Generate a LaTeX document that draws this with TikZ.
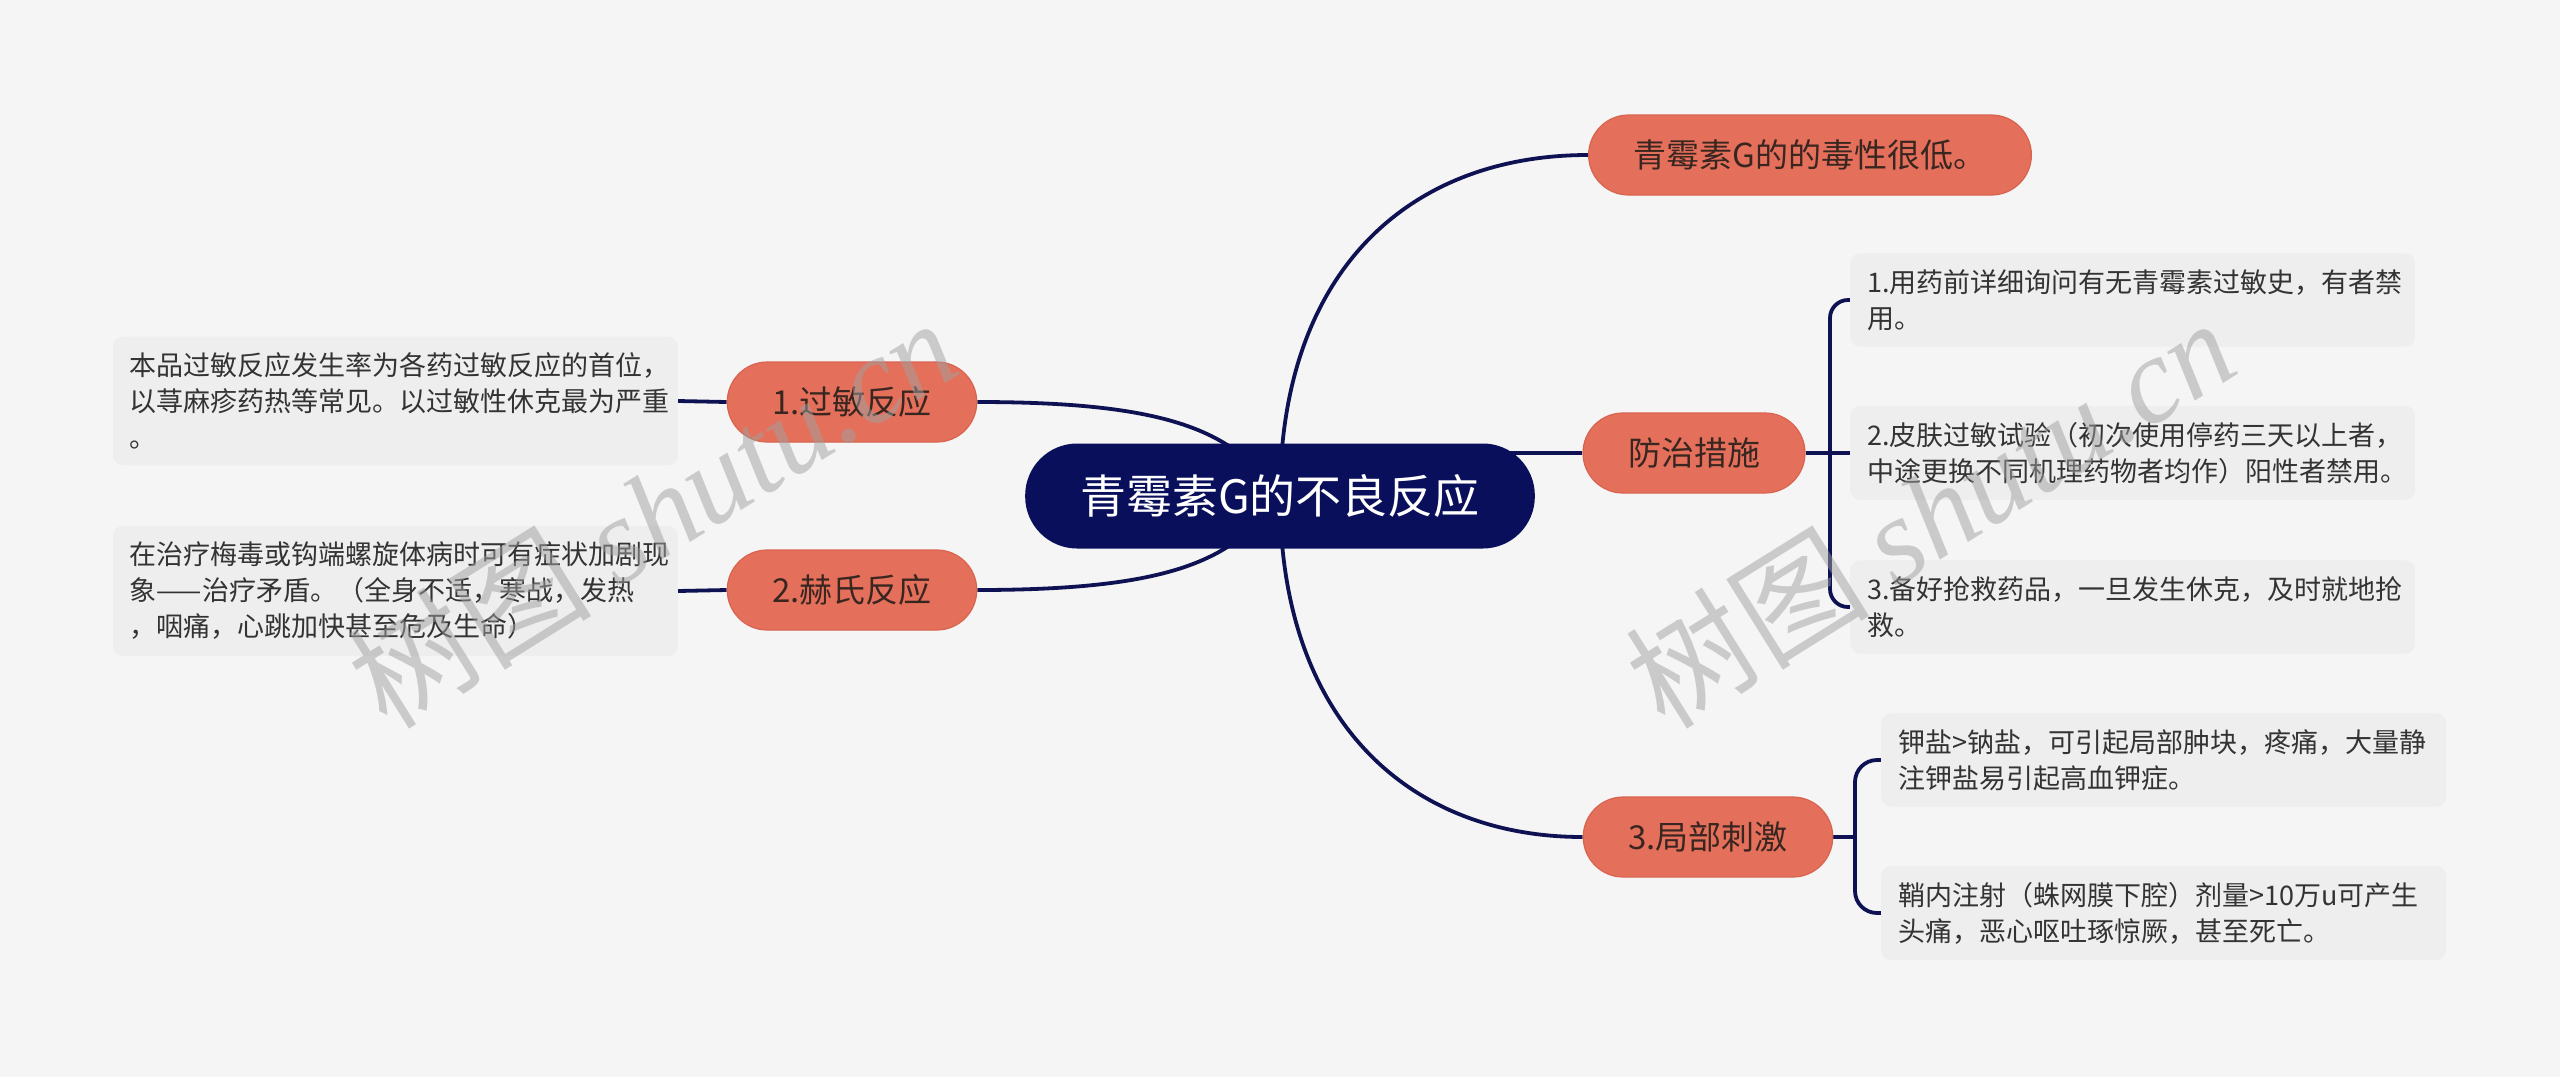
\documentclass[tikz,border=0pt]{standalone}
\usepackage{fontspec}
\setmainfont{Noto Sans CJK SC}
\newfontfamily\wmfont{Liberation Serif}
\usetikzlibrary{backgrounds}
\definecolor{bgc}{HTML}{F5F5F5}
\definecolor{rootc}{HTML}{0A0F5C}
\definecolor{topicc}{HTML}{E4705B}
\definecolor{topicd}{HTML}{D8634E}
\definecolor{leafc}{HTML}{EEEEEE}
\definecolor{txtc}{HTML}{333333}
\definecolor{topictxt}{HTML}{3A2621}
\definecolor{linkc}{HTML}{0E1253}
\definecolor{wmc}{HTML}{A0A0A0}

\begin{document}
\begin{tikzpicture}[x=1pt,y=-1pt,
  root/.style={fill=rootc,text=white,rounded corners=52pt,minimum height=105pt,inner xsep=55pt,font=\fontsize{46pt}{55pt}\selectfont},
  topic/.style={fill=topicc,draw=topicd,line width=1.2pt,text=topictxt,rounded corners=40pt,minimum height=80pt,inner xsep=45pt,font=\fontsize{33pt}{40pt}\selectfont},
  leaf/.style={fill=leafc,text=txtc,rounded corners=10pt,text width=531pt,align=left,inner xsep=17pt,inner ysep=16pt,font=\fontsize{27pt}{36pt}\selectfont},
  link/.style={draw=linkc,line width=3.8pt},
  wm/.style={text=wmc,opacity=0.5,rotate=32,font=\fontsize{122pt}{122pt}\selectfont}]
\node[root] at (1280,496) (root) {青霉素G的不良反应};
\node[topic] at (1810,155) (tox) {青霉素G的的毒性很低。};
\node[topic] at (1694,453) (fz) {防治措施};
\node[topic] at (1708,837) (jb) {3.局部刺激};
\node[topic] at (852,402) (gm) {1.过敏反应};
\node[topic] at (852,590) (hs) {2.赫氏反应};
\node[leaf,anchor=east] at (678,401) (gm1) {本品过敏反应发生率为各药过敏反应的首位，\\以荨麻疹药热等常见。以过敏性休克最为严重\\。};
\node[leaf,anchor=east] at (678,591) (hs1) {在治疗梅毒或钩端螺旋体病时可有症状加剧现\\象——治疗矛盾。（全身不适，寒战，发热\\，咽痛，心跳加快甚至危及生命）};
\node[leaf,anchor=west] at (1850,300) (fz1) {1.用药前详细询问有无青霉素过敏史，有者禁\\用。};
\node[leaf,anchor=west] at (1850,453) (fz2) {2.皮肤过敏试验（初次使用停药三天以上者，\\中途更换不同机理药物者均作）阳性者禁用。};
\node[leaf,anchor=west] at (1850,607) (fz3) {3.备好抢救药品，一旦发生休克，及时就地抢\\救。};
\node[leaf,anchor=west] at (1881,760) (jb1) {钾盐>钠盐，可引起局部肿块，疼痛，大量静\\注钾盐易引起高血钾症。};
\node[leaf,anchor=west] at (1881,913) (jb2) {鞘内注射（蛛网膜下腔）剂量>10万u可产生\\头痛，恶心呕吐琢惊厥，甚至死亡。};
\coordinate (fzk) at (1830,453);
\coordinate (jbk) at (1855,837);
\begin{scope}[on background layer]
\fill[bgc] (0,0) rectangle (2560,1077);
\draw[link] (root.center) .. controls (1280,270) and (1410,155) .. (tox.west);
\draw[link] (root.center |- fz.west) -- (fz.west);
\draw[link] (root.center) .. controls (1280,722) and (1410,837) .. (jb.west);
\draw[link] (root.center) .. controls (1235,435) and (1180,402) .. (gm.east);
\draw[link] (root.center) .. controls (1235,557) and (1180,590) .. (hs.east);
\draw[link] (gm.west) -- (gm1.east);
\draw[link] (hs.west) -- (hs1.east);
% brackets
\draw[link] (fz.east) -- (fzk) -- (fz2.west);
\draw[link,rounded corners=18pt] (fz1.west) -| (fzk) |- (fz3.west);
\draw[link] (jb.east) -- (jbk);
\draw[link,rounded corners=22pt] (jb1.west) -| (jbk) |- (jb2.west);
\end{scope}
\node[wm] at (652,512) (wm1) {树图 {\wmfont\itshape shutu.cn}};
\node[wm] at (1930,512) (wm2) {树图 {\wmfont\itshape shutu.cn}};
\end{tikzpicture}
\end{document}
